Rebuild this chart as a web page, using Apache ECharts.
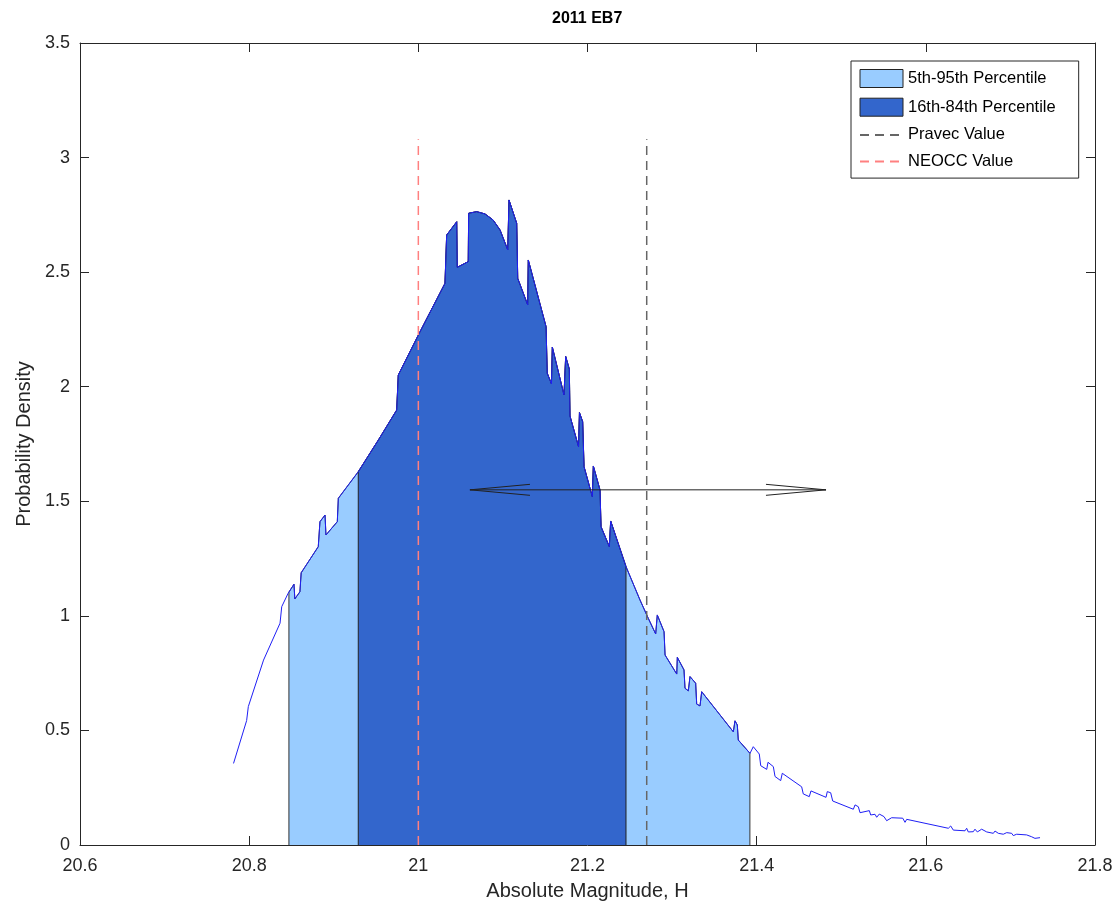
<!DOCTYPE html>
<html>
<head>
<meta charset="utf-8">
<title>2011 EB7</title>
<script src="https://cdn.jsdelivr.net/npm/echarts@6/dist/echarts.min.js"></script>
<style>
  html, body { margin: 0; background: #fff; }
  #main { width: 1118px; height: 906px; }
</style>
</head>
<body>
<div id="main"></div>
<script>
// absolute magnitude H and probability density of the curve
const hValues = [
  20.7815, 20.797, 20.799, 20.817, 20.8365, 20.8385, 20.846, 20.853, 20.854, 20.860,
  20.8615, 20.8817, 20.8837, 20.8897, 20.8908, 20.9042, 20.9054, 20.929, 20.9527, 20.9744,
  20.9763, 21.002, 21.0315, 21.0335, 21.0454, 21.046, 21.059, 21.0595, 21.069, 21.0788,
  21.0883, 21.0966, 21.1057, 21.1072, 21.1163, 21.1175, 21.1293, 21.130, 21.151, 21.1524,
  21.1574, 21.1584, 21.1722, 21.1742, 21.1785, 21.1793, 21.1894, 21.1905, 21.1943, 21.1959,
  21.2057, 21.2069, 21.2148, 21.216, 21.2258, 21.2274, 21.2455, 21.2621, 21.2719, 21.2806,
  21.2825, 21.2905, 21.2917, 21.3055, 21.3062, 21.3141, 21.3153, 21.3192, 21.3212, 21.3279,
  21.3291, 21.333, 21.335, 21.3724, 21.3744, 21.3771, 21.3783, 21.3921, 21.396, 21.4031,
  21.4048, 21.4119, 21.4134, 21.4197, 21.4217, 21.4284, 21.4303, 21.4532, 21.4551, 21.4622,
  21.4642, 21.482, 21.4835, 21.4875, 21.4899, 21.5143, 21.5163, 21.5202, 21.5222, 21.5332,
  21.5348, 21.5399, 21.5419, 21.545, 21.5505, 21.5537, 21.5596, 21.5727, 21.5754, 21.5774,
  21.6266, 21.6294, 21.6325, 21.6463, 21.6483, 21.6502, 21.6561, 21.6581, 21.6609, 21.666,
  21.672, 21.6798, 21.6818, 21.6857, 21.6916, 21.6956, 21.7015, 21.7034, 21.7074, 21.7192,
  21.7251, 21.729, 21.735
];
const density = [
  0.356, 0.543, 0.604, 0.807, 0.968, 1.040, 1.098, 1.138, 1.074, 1.105,
  1.188, 1.302, 1.411, 1.440, 1.353, 1.411, 1.513, 1.629, 1.767, 1.898,
  2.051, 2.240, 2.451, 2.662, 2.720, 2.521, 2.546, 2.757, 2.764, 2.754,
  2.728, 2.684, 2.597, 2.815, 2.713, 2.473, 2.357, 2.553, 2.262, 2.059,
  2.012, 2.173, 1.964, 2.132, 2.077, 1.872, 1.738, 1.887, 1.847, 1.651,
  1.520, 1.654, 1.549, 1.389, 1.302, 1.414, 1.215, 1.069, 0.989, 0.921,
  1.004, 0.931, 0.829, 0.746, 0.819, 0.764, 0.684, 0.673, 0.735, 0.706,
  0.615, 0.607, 0.669, 0.494, 0.542, 0.524, 0.458, 0.400, 0.429, 0.397,
  0.346, 0.330, 0.361, 0.342, 0.299, 0.281, 0.313, 0.254, 0.223, 0.211,
  0.236, 0.208, 0.233, 0.228, 0.192, 0.156, 0.175, 0.167, 0.141, 0.150,
  0.131, 0.134, 0.121, 0.135, 0.124, 0.106, 0.119, 0.117, 0.099, 0.112,
  0.073, 0.083, 0.065, 0.062, 0.073, 0.057, 0.058, 0.069, 0.057, 0.069,
  0.057, 0.051, 0.061, 0.051, 0.047, 0.054, 0.051, 0.041, 0.047, 0.044,
  0.036, 0.029, 0.032
];

// percentiles of H
const p05 = 20.847;
const p16 = 20.929;
const p84 = 21.2455;
const p95 = 21.392;

// reference values
const pravecH = 21.27;
const neoccH = 21.0;
const refLineTop = 3.08;

// arrow annotation
const arrowY = 1.55;
const arrowFrom = 21.061;
const arrowTo = 21.482;
const headLen = 0.071;
const headHalf = 0.024;

const xTicks = { min: 20.6, max: 21.8, interval: 0.2 };
const yTicks = { min: 0, max: 3.5, interval: 0.5 };

const FONT = '"Liberation Sans", Arial, Helvetica, sans-serif';
const AXIS_COLOR = '#262626';

function interp(x) {
  for (let i = 0; i < hValues.length - 1; i++) {
    if (hValues[i] <= x && x <= hValues[i + 1]) {
      const t = (x - hValues[i]) / (hValues[i + 1] - hValues[i]);
      return density[i] + t * (density[i + 1] - density[i]);
    }
  }
  return 0;
}

// piece of the curve between lo and hi, closed down to zero
function band(lo, hi) {
  const pts = [[lo, 0], [lo, interp(lo)]];
  hValues.forEach((h, i) => {
    if (h > lo && h < hi) pts.push([h, density[i]]);
  });
  pts.push([hi, interp(hi)], [hi, 0]);
  return pts;
}

const curve = hValues.map((h, i) => [h, density[i]]);

const chart = echarts.init(document.getElementById('main'));

const option = {
  animation: false,
  backgroundColor: '#fff',
  textStyle: { fontFamily: FONT },
  title: {
    text: '2011 EB7',
    left: 547,
    top: 6,
    textStyle: { fontSize: 16, fontWeight: 'bold', color: '#000', fontFamily: FONT }
  },
  grid: { left: 80, right: 23, top: 43, bottom: 61 },
  legend: {
    orient: 'vertical',
    left: 851,
    top: 61,
    padding: [8, 23, 8, 8],
    itemGap: 9.7,
    itemWidth: 43,
    itemHeight: 18,
    borderColor: AXIS_COLOR,
    borderWidth: 1,
    borderRadius: 0,
    backgroundColor: '#fff',
    selectedMode: false,
    textStyle: { fontSize: 16.5, color: '#000', fontFamily: FONT },
    data: [
      { name: '5th-95th Percentile', icon: 'rect', itemStyle: { color: '#99ccff', borderColor: '#222', borderWidth: 1 } },
      { name: '16th-84th Percentile', icon: 'rect', itemStyle: { color: '#3366cc', borderColor: '#222', borderWidth: 1 } },
      { name: 'Pravec Value', itemStyle: { opacity: 0 } },
      { name: 'NEOCC Value', itemStyle: { opacity: 0 } }
    ]
  },
  xAxis: [
    {
      type: 'value',
      min: xTicks.min, max: xTicks.max, interval: xTicks.interval,
      name: 'Absolute Magnitude, H',
      nameLocation: 'middle',
      nameGap: 36,
      nameTextStyle: { fontSize: 20, color: AXIS_COLOR, fontFamily: FONT },
      axisLine: { onZero: false, lineStyle: { color: AXIS_COLOR, width: 1 } },
      axisTick: { inside: true, length: 9, lineStyle: { color: AXIS_COLOR } },
      axisLabel: { fontSize: 18, color: AXIS_COLOR, margin: 12, fontFamily: FONT },
      splitLine: { show: false }
    },
    {
      type: 'value',
      position: 'top',
      min: xTicks.min, max: xTicks.max, interval: xTicks.interval,
      axisLine: { onZero: false, lineStyle: { color: AXIS_COLOR, width: 1 } },
      axisTick: { inside: true, length: 9, lineStyle: { color: AXIS_COLOR } },
      axisLabel: { show: false },
      splitLine: { show: false }
    }
  ],
  yAxis: [
    {
      type: 'value',
      min: yTicks.min, max: yTicks.max, interval: yTicks.interval,
      name: 'Probability Density',
      nameLocation: 'middle',
      nameGap: 46,
      nameTextStyle: { fontSize: 20, color: AXIS_COLOR, fontFamily: FONT },
      axisLine: { show: true, onZero: false, lineStyle: { color: AXIS_COLOR, width: 1 } },
      axisTick: { show: true, inside: true, length: 9, lineStyle: { color: AXIS_COLOR } },
      axisLabel: { fontSize: 18, color: AXIS_COLOR, margin: 10, fontFamily: FONT },
      splitLine: { show: false }
    },
    {
      type: 'value',
      position: 'right',
      min: yTicks.min, max: yTicks.max, interval: yTicks.interval,
      axisLine: { show: true, onZero: false, lineStyle: { color: AXIS_COLOR, width: 1 } },
      axisTick: { show: true, inside: true, length: 9, lineStyle: { color: AXIS_COLOR } },
      axisLabel: { show: false },
      splitLine: { show: false }
    }
  ],
  series: [
    {
      name: '5th-95th Percentile',
      type: 'line',
      data: band(p05, p95),
      symbol: 'none',
      silent: true,
      z: 1,
      lineStyle: { color: '#333', width: 1 },
      itemStyle: { color: '#99ccff' },
      areaStyle: { color: '#99ccff', opacity: 1 }
    },
    {
      name: '16th-84th Percentile',
      type: 'line',
      data: band(p16, p84),
      symbol: 'none',
      silent: true,
      z: 2,
      lineStyle: { color: '#222', width: 1 },
      itemStyle: { color: '#3366cc' },
      areaStyle: { color: '#3366cc', opacity: 1 }
    },
    {
      name: 'curve',
      type: 'line',
      data: curve,
      symbol: 'none',
      silent: true,
      z: 3,
      lineStyle: { color: '#1f1ff5', width: 1 }
    },
    {
      name: 'Pravec Value',
      type: 'line',
      data: [[pravecH, 0], [pravecH, refLineTop]],
      symbol: 'none',
      silent: true,
      z: 4,
      itemStyle: { color: '#666' },
      lineStyle: { color: '#666', width: 1.5, type: [9, 6] }
    },
    {
      name: 'NEOCC Value',
      type: 'line',
      data: [[neoccH, 0], [neoccH, refLineTop]],
      symbol: 'none',
      silent: true,
      z: 4,
      itemStyle: { color: '#ff8080' },
      lineStyle: { color: '#ff8080', width: 1.5, type: [9, 6] }
    },
    {
      name: 'arrow',
      type: 'lines',
      coordinateSystem: 'cartesian2d',
      polyline: true,
      silent: true,
      z: 5,
      lineStyle: { color: '#222', width: 1, opacity: 1 },
      data: [
        { coords: [[arrowFrom, arrowY], [arrowTo, arrowY]] },
        { coords: [[arrowFrom + headLen, arrowY + headHalf], [arrowFrom, arrowY], [arrowFrom + headLen, arrowY - headHalf]] },
        { coords: [[arrowTo - headLen, arrowY + headHalf], [arrowTo, arrowY], [arrowTo - headLen, arrowY - headHalf]] }
      ]
    }
  ]
};

option && chart.setOption(option);
</script>
</body>
</html>
